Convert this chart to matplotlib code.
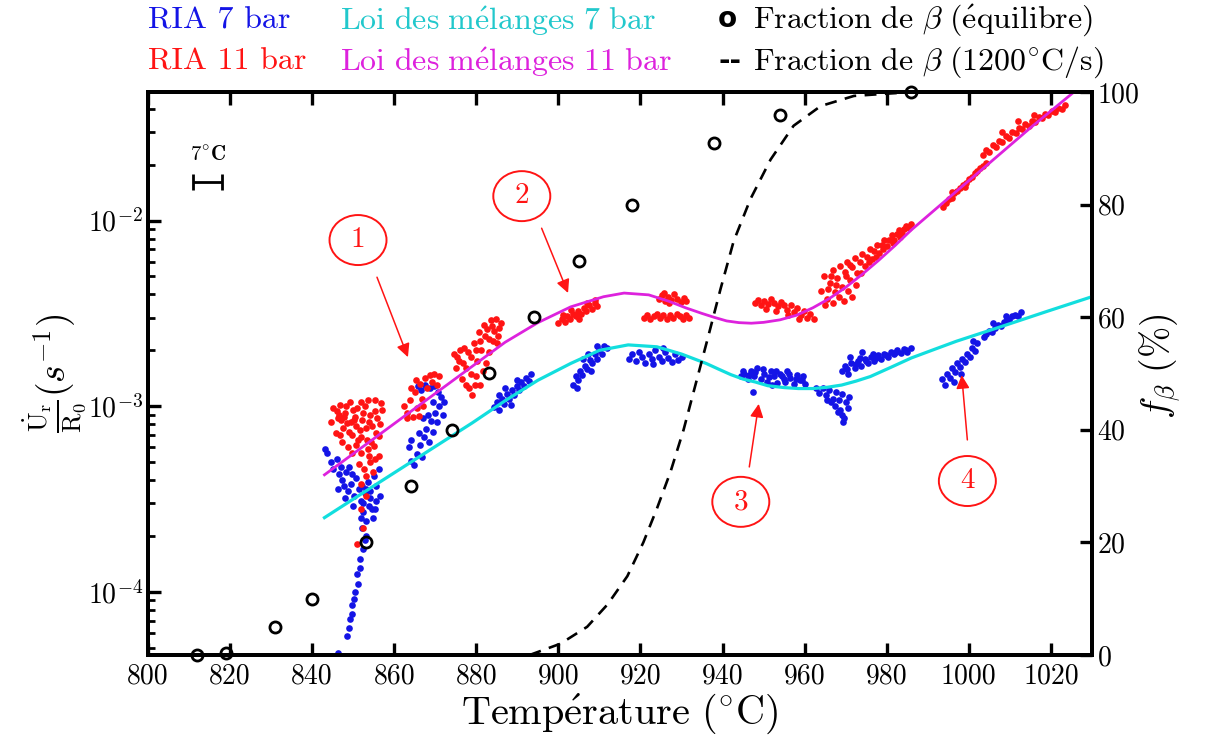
import matplotlib
matplotlib.use('Agg')
import matplotlib.pyplot as plt
from matplotlib.patches import Ellipse
from matplotlib.ticker import LogLocator, NullFormatter, FixedLocator

plt.rcParams['font.family'] = ['cmr10', 'DejaVu Serif']
plt.rcParams['mathtext.fontset'] = 'cm'
plt.rcParams['axes.formatter.use_mathtext'] = True

# ---------------- data ----------------
# RIA 7 bar measurements (temperature degC, strain rate 1/s)
ria7_pts = [
    # cluster ~845-857
    (843.5, 5.6e-4), (844.5, 5.0e-4), (845.2, 4.6e-4), (846.0, 5.2e-4), (846.5, 4.3e-4), (847.2, 4.0e-4),
    (847.8, 3.7e-4), (848.2, 4.4e-4), (848.8, 3.5e-4), (849.5, 3.8e-4), (850.2, 3.3e-4), (850.8, 4.1e-4),
    (851.5, 3.6e-4), (852.0, 3.1e-4), (852.8, 3.4e-4), (853.5, 3.9e-4), (854.2, 3.5e-4), (855.0, 4.2e-4),
    (855.6, 3.7e-4), (856.2, 4.6e-4), (853.8, 2.9e-4), (852.5, 2.7e-4), (851.8, 2.5e-4), (853.0, 2.4e-4),
    (854.5, 2.8e-4), (852.2, 2.2e-4), (853.2, 2.0e-4), (852.9, 1.9e-4), (851.7, 1.5e-4), (852.4, 1.7e-4),
    (851.0, 1.25e-4), (851.6, 1.35e-4), (850.5, 1.0e-4), (851.2, 1.1e-4), (849.8, 8.5e-5), (850.3, 9.2e-5),
    (849.3, 7.1e-5), (849.8, 7.6e-5), (848.5, 5.8e-5), (848.9, 6.4e-5), (846.3, 4.7e-5), (852.5, 3.0e-4),
    (850.0, 2.9e-4), (848.0, 3.2e-4), (846.2, 3.6e-4), (854.8, 2.5e-4), (855.5, 3.1e-4), (856.5, 3.3e-4),
    (843.2, 5.9e-4), (849.0, 4.7e-4), (847.0, 4.7e-4), (849.8, 4.3e-4), (852.2, 3.7e-4), (854.0, 3.2e-4),
    (855.2, 2.8e-4), (853.0, 3.6e-4),
    # cluster ~862-873
    (863.5, 6.0e-4), (864.0, 5.1e-4), (864.8, 4.8e-4), (865.5, 5.5e-4), (866.2, 6.2e-4), (866.8, 5.3e-4),
    (867.2, 6.8e-4), (867.8, 7.5e-4), (868.4, 6.4e-4), (869.0, 8.3e-4), (869.4, 7.3e-4), (870.0, 9.2e-4),
    (870.4, 8.2e-4), (871.0, 1.0e-3), (871.4, 1.12e-3), (870.6, 1.2e-3), (869.8, 1.28e-3), (868.8, 1.25e-3),
    (867.6, 1.3e-3), (866.5, 1.22e-3), (865.8, 1.28e-3), (871.8, 9.0e-4), (872.2, 1.05e-3), (868.2, 9.0e-4),
    (869.4, 1.05e-3), (866.0, 7.2e-4), (867.0, 8.6e-4), (864.2, 6.6e-4),
    # cluster ~884-894
    (884.2, 9.9e-4), (885.0, 1.05e-3), (885.6, 9.5e-4), (886.2, 1.1e-3), (886.8, 1.03e-3), (887.4, 1.16e-3),
    (888.0, 1.1e-3), (888.6, 1.22e-3), (889.2, 1.15e-3), (889.8, 1.28e-3), (890.4, 1.22e-3), (891.0, 1.35e-3),
    (891.6, 1.28e-3), (892.2, 1.42e-3), (892.8, 1.36e-3), (893.4, 1.5e-3), (887.0, 1.25e-3), (890.0, 1.38e-3),
    (885.5, 1.15e-3), (888.5, 1.02e-3),
    # cluster ~904-912
    (903.6, 1.3e-3), (904.2, 1.45e-3), (904.8, 1.38e-3), (905.2, 1.55e-3), (905.8, 1.48e-3), (906.4, 1.65e-3),
    (907.0, 1.58e-3), (907.6, 1.78e-3), (908.2, 1.7e-3), (908.8, 1.9e-3), (909.4, 1.8e-3), (910.0, 2.0e-3),
    (910.6, 1.92e-3), (911.2, 2.1e-3), (911.8, 2.05e-3), (906.0, 1.8e-3), (908.0, 1.55e-3), (909.5, 2.1e-3),
    (904.5, 1.25e-3), (907.2, 1.9e-3),
    # cluster ~917-930
    (917.2, 1.8e-3), (918.0, 1.9e-3), (918.8, 1.75e-3), (919.6, 1.95e-3), (920.4, 1.85e-3), (921.2, 1.7e-3),
    (922.0, 1.92e-3), (922.8, 1.8e-3), (923.6, 2.0e-3), (924.4, 1.85e-3), (925.2, 1.75e-3), (926.0, 1.95e-3),
    (926.8, 1.82e-3), (927.6, 1.72e-3), (928.4, 1.9e-3), (929.2, 1.78e-3), (930.0, 1.85e-3), (923.0, 1.68e-3),
    (925.5, 2.05e-3),
    # cluster ~944-960
    (944.5, 1.45e-3), (945.3, 1.5e-3), (946.1, 1.4e-3), (946.9, 1.55e-3), (947.7, 1.45e-3), (948.5, 1.6e-3),
    (949.3, 1.4e-3), (950.1, 1.5e-3), (950.9, 1.35e-3), (951.7, 1.55e-3), (952.5, 1.45e-3), (953.3, 1.33e-3),
    (954.1, 1.5e-3), (954.9, 1.4e-3), (955.7, 1.55e-3), (956.5, 1.42e-3), (957.3, 1.32e-3), (958.1, 1.48e-3),
    (958.9, 1.38e-3), (959.7, 1.45e-3), (960.2, 1.32e-3), (947.3, 1.2e-3), (952.0, 1.3e-3),
    (945.0, 1.55e-3), (946.5, 1.47e-3), (948.0, 1.52e-3), (949.8, 1.58e-3), (951.3, 1.43e-3), (953.0, 1.55e-3),
    (954.5, 1.45e-3), (956.1, 1.5e-3), (957.8, 1.4e-3), (959.3, 1.38e-3), (955.3, 1.35e-3),
    # cluster ~963-971
    (962.8, 1.25e-3), (963.6, 1.18e-3), (964.4, 1.26e-3), (965.2, 1.15e-3), (966.0, 1.22e-3), (966.8, 1.1e-3),
    (967.6, 1.2e-3), (968.4, 1.08e-3), (969.2, 1.16e-3), (970.0, 1.05e-3), (970.8, 1.12e-3), (966.5, 1.05e-3),
    (967.5, 1.0e-3), (968.5, 9.6e-4), (969.0, 9.0e-4), (968.2, 9.3e-4), (969.5, 8.6e-4), (969.3, 8.2e-4),
    (965.5, 1.08e-3), (970.5, 9.8e-4),
    # cluster ~969-986
    (969.0, 1.55e-3), (969.8, 1.65e-3), (970.6, 1.5e-3), (971.4, 1.7e-3), (972.2, 1.6e-3), (973.0, 1.75e-3),
    (973.8, 1.65e-3), (974.6, 1.8e-3), (975.4, 1.7e-3), (976.2, 1.85e-3), (977.0, 1.75e-3), (977.8, 1.88e-3),
    (978.6, 1.8e-3), (979.4, 1.92e-3), (980.2, 1.85e-3), (981.0, 1.97e-3), (981.8, 1.9e-3), (982.6, 2.0e-3),
    (983.4, 1.93e-3), (984.2, 2.03e-3), (985.0, 1.97e-3), (985.8, 2.05e-3), (971.0, 1.85e-3), (974.0, 1.95e-3),
    (970.2, 1.58e-3), (972.6, 1.68e-3), (975.0, 1.76e-3), (977.4, 1.82e-3), (979.8, 1.88e-3), (982.2, 1.95e-3),
    (984.6, 2.0e-3), (973.4, 1.82e-3), (976.6, 1.9e-3),
    # cluster ~993-1002
    (993.5, 1.4e-3), (994.2, 1.3e-3), (994.8, 1.5e-3), (995.4, 1.42e-3), (996.0, 1.6e-3), (996.6, 1.52e-3),
    (997.2, 1.7e-3), (997.8, 1.62e-3), (998.4, 1.8e-3), (999.0, 1.72e-3), (999.6, 1.92e-3), (1000.2, 1.85e-3),
    (1000.8, 2.05e-3), (1001.4, 1.98e-3), (1002.0, 2.2e-3), (996.5, 1.35e-3), (998.0, 1.5e-3), (1001.0, 2.25e-3),
    # cluster ~1003-1013
    (1003.6, 2.35e-3), (1004.3, 2.45e-3), (1005.0, 2.55e-3), (1005.7, 2.5e-3), (1006.4, 2.65e-3), (1007.1, 2.75e-3),
    (1007.8, 2.7e-3), (1008.5, 2.85e-3), (1009.2, 2.95e-3), (1009.9, 2.9e-3), (1010.6, 3.05e-3), (1011.3, 3.1e-3),
    (1012.0, 3.05e-3), (1012.7, 3.2e-3), (1006.0, 2.8e-3), (1009.0, 3.05e-3),
]

# RIA 11 bar measurements
ria11_pts = [
    # cluster ~844-857
    (845.0, 9.8e-4), (846.2, 8.6e-4), (846.8, 1.02e-3), (847.5, 7.6e-4), (848.0, 9.2e-4), (848.6, 8.1e-4),
    (849.3, 1.05e-3), (849.8, 7.0e-4), (850.4, 8.8e-4), (851.0, 9.8e-4), (851.6, 7.4e-4), (852.2, 8.4e-4),
    (852.8, 1.0e-3), (853.4, 6.6e-4), (854.0, 9.0e-4), (854.6, 7.8e-4), (855.2, 1.08e-3), (855.8, 8.6e-4),
    (856.4, 6.9e-4), (857.0, 9.6e-4), (845.8, 7.2e-4), (847.2, 6.4e-4), (848.8, 6.0e-4), (850.6, 6.2e-4),
    (852.0, 5.6e-4), (853.6, 5.9e-4), (855.0, 6.1e-4), (856.2, 5.4e-4), (854.2, 5.0e-4), (852.6, 4.6e-4),
    (851.4, 4.9e-4), (853.2, 4.2e-4), (854.8, 4.4e-4), (852.0, 3.8e-4), (853.0, 3.3e-4), (851.8, 2.8e-4),
    (852.4, 2.2e-4), (851.0, 1.8e-4), (847.0, 8.4e-4), (849.0, 7.3e-4), (850.0, 9.5e-4), (853.0, 7.6e-4),
    (855.6, 7.2e-4), (846.0, 9.4e-4), (844.5, 8.2e-4),
    (846.5, 9.0e-4), (847.8, 8.8e-4), (849.5, 8.2e-4), (850.8, 7.8e-4), (852.4, 9.2e-4), (853.8, 8.2e-4),
    (855.4, 9.4e-4), (856.6, 8.0e-4), (854.4, 6.4e-4), (851.2, 6.6e-4), (849.8, 5.6e-4), (846.8, 7.0e-4),
    (848.2, 1.0e-3), (851.8, 1.06e-3), (853.6, 1.08e-3), (856.8, 1.04e-3), (855.4, 5.2e-4), (853.8, 5.4e-4),
    (852.0, 6.8e-4), (850.2, 8.4e-4),
    # cluster ~862-871
    (862.5, 1.0e-3), (863.2, 9.2e-4), (863.8, 1.08e-3), (864.5, 8.8e-4), (865.0, 1.2e-3), (865.6, 9.8e-4),
    (866.2, 1.32e-3), (866.8, 1.1e-3), (867.4, 1.42e-3), (868.0, 1.25e-3), (868.6, 1.48e-3), (869.2, 1.35e-3),
    (869.8, 1.5e-3), (870.4, 1.3e-3), (871.0, 1.45e-3), (864.0, 1.25e-3), (865.2, 1.38e-3), (866.0, 8.9e-4),
    (863.0, 8.6e-4), (867.0, 1.0e-3),
    # cluster ~874-886
    (874.5, 1.9e-3), (875.0, 1.6e-3), (875.8, 1.75e-3), (876.4, 1.4e-3), (877.0, 2.05e-3), (877.6, 1.6e-3),
    (878.2, 1.25e-3), (878.8, 1.85e-3), (879.4, 2.2e-3), (880.0, 1.45e-3), (880.6, 2.5e-3), (881.2, 2.0e-3),
    (881.8, 2.75e-3), (882.4, 1.7e-3), (883.0, 2.3e-3), (883.6, 2.9e-3), (884.2, 2.55e-3), (884.8, 2.95e-3),
    (885.4, 2.4e-3), (886.0, 2.8e-3), (879.0, 1.15e-3), (877.4, 1.3e-3), (882.0, 2.4e-3), (880.2, 1.75e-3),
    (883.2, 1.95e-3), (876.0, 2.0e-3), (885.0, 2.2e-3), (881.0, 1.3e-3),
    (876.8, 1.7e-3), (878.0, 1.95e-3), (879.8, 2.0e-3), (880.8, 2.25e-3), (882.6, 2.6e-3), (884.0, 2.25e-3),
    (885.6, 2.65e-3), (878.6, 1.5e-3), (881.6, 1.55e-3), (883.8, 2.7e-3), (875.4, 1.85e-3), (879.6, 1.3e-3),
    # cluster ~900-910
    (900.0, 2.8e-3), (900.8, 2.95e-3), (901.5, 2.85e-3), (902.2, 3.05e-3), (902.8, 2.95e-3), (903.5, 3.15e-3),
    (904.2, 3.05e-3), (904.8, 3.25e-3), (905.5, 3.15e-3), (906.2, 3.4e-3), (906.8, 3.25e-3), (907.5, 3.5e-3),
    (908.2, 3.35e-3), (908.8, 3.6e-3), (909.5, 3.45e-3), (903.0, 3.3e-3), (905.0, 2.95e-3), (907.0, 3.6e-3),
    (901.0, 3.1e-3), (909.0, 3.75e-3),
    # cluster ~924-932 (upper)
    (924.5, 3.8e-3), (925.3, 3.95e-3), (926.0, 3.7e-3), (926.8, 3.9e-3), (927.5, 3.75e-3), (928.2, 4.0e-3),
    (929.0, 3.8e-3), (929.8, 3.65e-3), (930.5, 3.85e-3), (931.2, 3.7e-3), (927.0, 3.6e-3), (925.8, 4.05e-3),
    # cluster ~921-932 (lower)
    (920.8, 3.0e-3), (921.6, 3.1e-3), (922.4, 2.95e-3), (923.2, 3.05e-3), (924.0, 3.15e-3), (924.8, 3.0e-3),
    (925.6, 3.1e-3), (926.4, 2.95e-3), (927.2, 3.1e-3), (928.0, 3.0e-3), (928.8, 3.15e-3), (929.6, 3.05e-3),
    (930.4, 2.95e-3), (931.2, 3.1e-3), (931.8, 3.0e-3),
    # cluster ~948-962
    (947.8, 3.6e-3), (948.6, 3.75e-3), (949.4, 3.5e-3), (950.2, 3.7e-3), (951.0, 3.55e-3), (951.8, 3.8e-3),
    (952.6, 3.6e-3), (953.4, 3.45e-3), (954.2, 3.65e-3), (955.0, 3.5e-3), (955.8, 3.3e-3), (956.6, 3.5e-3),
    (957.4, 3.2e-3), (958.2, 3.4e-3), (959.0, 3.1e-3), (959.8, 3.25e-3), (960.6, 3.0e-3), (961.4, 3.15e-3),
    (962.2, 2.95e-3), (953.0, 3.25e-3), (956.0, 3.1e-3), (958.5, 2.95e-3), (950.5, 3.35e-3),
    # cluster ~964-986
    (964.0, 4.2e-3), (964.8, 5.0e-3), (965.5, 3.8e-3), (966.2, 4.6e-3), (966.8, 5.4e-3), (967.4, 4.1e-3),
    (968.0, 4.9e-3), (968.6, 5.7e-3), (969.2, 4.4e-3), (969.8, 5.3e-3), (970.4, 6.0e-3), (971.0, 4.8e-3),
    (971.6, 5.6e-3), (972.2, 6.3e-3), (972.8, 5.2e-3), (973.4, 6.0e-3), (974.0, 6.6e-3), (974.6, 5.7e-3),
    (975.2, 6.4e-3), (975.8, 7.0e-3), (976.4, 6.2e-3), (977.0, 6.9e-3), (977.6, 7.4e-3), (978.2, 6.7e-3),
    (978.8, 7.4e-3), (979.4, 7.9e-3), (980.0, 7.3e-3), (980.6, 7.9e-3), (981.2, 8.4e-3), (981.8, 7.9e-3),
    (982.4, 8.5e-3), (983.0, 8.9e-3), (983.6, 8.5e-3), (984.2, 9.0e-3), (984.8, 9.4e-3), (985.4, 9.1e-3),
    (986.0, 9.6e-3), (965.0, 3.5e-3), (967.0, 3.6e-3), (969.5, 3.7e-3), (971.5, 3.9e-3), (970.5, 4.2e-3),
    (965.8, 4.3e-3), (967.6, 4.5e-3), (968.4, 3.9e-3), (970.0, 5.0e-3), (972.6, 4.5e-3), (973.8, 5.2e-3),
    (975.6, 6.0e-3), (977.4, 6.4e-3), (979.0, 7.0e-3), (981.5, 7.6e-3), (983.2, 8.2e-3), (966.4, 5.0e-3),
    (971.0, 5.8e-3),
    # cluster ~994-1005
    (993.7, 1.18e-2), (994.4, 1.24e-2), (995.1, 1.3e-2), (995.8, 1.33e-2), (996.5, 1.4e-2), (997.2, 1.45e-2),
    (997.9, 1.5e-2), (998.6, 1.56e-2), (999.3, 1.6e-2), (1000.0, 1.68e-2), (1000.7, 1.72e-2), (1001.4, 1.8e-2),
    (1002.1, 1.85e-2), (1002.8, 1.92e-2), (1003.5, 1.96e-2), (1004.2, 2.04e-2), (996.0, 1.42e-2), (999.0, 1.52e-2),
    # cluster ~1003-1024
    (1003.4, 2.25e-2), (1004.2, 2.4e-2), (1005.0, 2.35e-2), (1005.8, 2.55e-2), (1006.6, 2.5e-2), (1007.4, 2.7e-2),
    (1008.2, 2.65e-2), (1009.0, 2.85e-2), (1009.8, 2.8e-2), (1010.6, 3.0e-2), (1011.4, 2.95e-2), (1012.2, 3.15e-2),
    (1013.0, 3.1e-2), (1013.8, 3.3e-2), (1014.6, 3.25e-2), (1015.4, 3.45e-2), (1016.2, 3.4e-2), (1017.0, 3.6e-2),
    (1017.8, 3.55e-2), (1018.6, 3.75e-2), (1019.4, 3.7e-2), (1020.2, 3.9e-2), (1021.0, 3.85e-2), (1021.8, 4.05e-2),
    (1022.6, 4.0e-2), (1023.5, 4.2e-2), (1008.0, 3.0e-2), (1012.0, 3.45e-2), (1016.0, 3.7e-2),
]

# Mixture-law fits
mix7_T = [843, 855, 867, 879, 887, 895, 903, 910, 917, 924, 930, 936, 939, 942, 945, 948, 951, 955, 958.5,
          962, 965.5, 969, 972.5, 976, 981, 986, 991.5, 997, 1008, 1019, 1030]
mix7_v = [2.51e-4, 3.72e-4, 5.50e-4, 8.13e-4, 1.07e-3, 1.38e-3, 1.70e-3, 2.00e-3, 2.14e-3, 2.09e-3, 1.91e-3,
          1.70e-3, 1.585e-3, 1.48e-3, 1.40e-3, 1.35e-3, 1.29e-3, 1.26e-3, 1.245e-3, 1.245e-3, 1.265e-3, 1.30e-3,
          1.365e-3, 1.445e-3, 1.62e-3, 1.82e-3, 2.02e-3, 2.24e-3, 2.69e-3, 3.24e-3, 3.89e-3]
mix11_T = [843, 855, 867, 879, 887, 895, 903, 911, 916, 922, 927, 931, 935, 938, 941, 944, 947, 950, 954,
           958, 962, 966, 970, 974, 978, 982, 986, 995, 1005, 1015, 1026]
mix11_v = [4.27e-4, 6.68e-4, 1.047e-3, 1.64e-3, 2.21e-3, 2.82e-3, 3.43e-3, 3.89e-3, 4.07e-3, 3.98e-3, 3.67e-3,
           3.39e-3, 3.16e-3, 3.01e-3, 2.88e-3, 2.82e-3, 2.80e-3, 2.83e-3, 2.92e-3, 3.09e-3, 3.39e-3, 3.80e-3,
           4.37e-3, 5.13e-3, 6.10e-3, 7.33e-3, 8.91e-3, 1.32e-2, 2.04e-2, 3.16e-2, 5.01e-2]

# beta fraction (%)
eq_T = [812, 819, 831, 840, 853, 864, 874, 883, 894, 905, 918, 938, 954, 986]
eq_f = [0, 0.3, 5, 10, 20, 30, 40, 50, 60, 70, 80, 91, 96, 100]
rate_T = [893, 900.5, 907, 912, 916.8, 920.7, 924, 927.3, 930.5, 933.4, 936.3, 939.5, 942.7, 946.8, 951.7,
          957.3, 963.9, 972, 980, 986.6]
rate_f = [0, 2, 5, 9, 14, 20, 26, 32.5, 40, 48, 56, 65, 73.5, 81, 88, 94, 97.5, 99.3, 99.7, 100]

xticks = [800, 820, 840, 860, 880, 900, 920, 940, 960, 980, 1000, 1020]
yticks_left = [1e-4, 1e-3, 1e-2]
yticklabels_left = [r'$10^{-4}$', r'$10^{-3}$', r'$10^{-2}$']
yticks_right = [0, 20, 40, 60, 80, 100]

BLUE = '#1414e6'
RED = '#ff1414'
CYAN = '#12dede'
MAGENTA = '#dd22dd'

# ---------------- figure ----------------
fig = plt.figure(figsize=(12.11, 7.40), dpi=100)
ax = fig.add_axes([0.1222, 0.1149, 0.7795, 0.7608])

ax.plot([p[0] for p in ria7_pts], [p[1] for p in ria7_pts], 'o', ms=4.8, mec='none', color=BLUE, zorder=2)
ax.plot([p[0] for p in ria11_pts], [p[1] for p in ria11_pts], 'o', ms=4.8, mec='none', color=RED, zorder=2)
ax.plot(mix7_T, mix7_v, '-', color=CYAN, lw=2.3, zorder=3)
ax.plot(mix11_T, mix11_v, '-', color=MAGENTA, lw=2.0, zorder=3)

ax.set_yscale('log')
ax.set_xlim(800, 1030)
ax.set_ylim(4.57e-5, 4.93e-2)
ax.xaxis.set_major_locator(FixedLocator(xticks))
ax.set_xticklabels([str(t) for t in xticks])
ax.yaxis.set_major_locator(FixedLocator(yticks_left))
ax.set_yticklabels(yticklabels_left)
ax.yaxis.set_minor_locator(LogLocator(base=10, subs=range(2, 10), numticks=20))
ax.yaxis.set_minor_formatter(NullFormatter())
ax.tick_params(axis='both', which='major', direction='in', length=9, width=2.4, labelsize=20, top=True, right=False)
ax.tick_params(axis='y', which='minor', direction='in', length=5, width=2.0, right=False)
ax.tick_params(axis='x', which='major', pad=6)
for s in ax.spines.values():
    s.set_linewidth(2.8)

fig.text(0.512, 0.036, r'$\mathrm{Temp\acute{e}rature\ (^{\circ}C)}$', fontsize=29, ha='center', va='center')
fig.text(0.046, 0.495, r'$\frac{\dot{\mathrm{U}}_{\mathrm{r}}}{\mathrm{R}_{0}}(s^{-1})$', fontsize=27,
         ha='center', va='center', rotation=90)

ax2 = ax.twinx()
ax2.plot(eq_T, eq_f, 'o', ms=8, mfc='none', mec='black', mew=2.0, clip_on=False, zorder=4)
ax2.plot(rate_T, rate_f, '--', color='black', lw=1.9, dashes=(4.5, 3.2), zorder=4)
ax2.set_ylim(0, 100)
ax2.yaxis.set_major_locator(FixedLocator(yticks_right))
ax2.tick_params(axis='y', direction='in', length=9, width=2.4, labelsize=20)
for s in ax2.spines.values():
    s.set_linewidth(2.8)
fig.text(0.958, 0.505, r'$f_{\beta}\ (\%)$', fontsize=27, ha='center', va='center', rotation=90)

# scale bar 7 degC
ax.errorbar([814.5], [0.0161], xerr=[3.5], fmt='none', ecolor='black', elinewidth=2.0, capsize=6, capthick=2.0)
ax.text(814.5, 0.0228, r'$\mathbf{7^{\circ}C}$', ha='center', va='center', fontsize=15)

# numbered annotations (axes fraction)
circles = [('1', 0.2225, 0.737), ('2', 0.396, 0.815), ('3', 0.628, 0.272), ('4', 0.868, 0.309)]
arrows = [((0.2426, 0.671), (0.2754, 0.529)), ((0.417, 0.758), (0.445, 0.643)),
          ((0.637, 0.334), (0.647, 0.446)), ((0.868, 0.382), (0.862, 0.497))]
for lab, cx, cy in circles:
    ax2.add_patch(Ellipse((cx, cy), 57 / 944, 50 / 563, transform=ax.transAxes, fill=False,
                          ec=RED, lw=1.4, clip_on=False))
    ax2.text(cx, cy, lab, transform=ax.transAxes, ha='center', va='center', color=RED, fontsize=21)
for (x0, y0), (x1, y1) in arrows:
    ax2.annotate('', xy=(x1, y1), xytext=(x0, y0), xycoords=ax.transAxes, textcoords=ax.transAxes,
                 arrowprops=dict(arrowstyle='-|>', color=RED, lw=1.1, mutation_scale=20, shrinkA=0, shrinkB=0))

# legend texts on top
fs = 23
fig.text(0.1222, 0.972, 'RIA 7 bar', color=BLUE, fontsize=fs, va='center', ha='left')
fig.text(0.1222, 0.916, 'RIA 11 bar', color=RED, fontsize=fs, va='center', ha='left')
fig.text(0.2808, 0.972, r'$\mathrm{Loi\ des\ m\acute{e}langes\ 7\ bar}$', color='#22c8cc', fontsize=fs,
         va='center', ha='left')
fig.text(0.2808, 0.916, r'$\mathrm{Loi\ des\ m\acute{e}langes\ 11\ bar}$', color=MAGENTA, fontsize=fs,
         va='center', ha='left')
fig.text(0.593, 0.974, 'o', fontsize=fs - 3, fontweight='bold', va='center', ha='left', family='DejaVu Sans')
fig.text(0.593, 0.918, '--', fontsize=fs - 3, fontweight='bold', va='center', ha='left', family='DejaVu Sans')
fig.text(0.6218, 0.972, r'$\mathrm{Fraction\ de\ }\beta\ \mathrm{(\acute{e}quilibre)}$', fontsize=fs,
         va='center', ha='left')
fig.text(0.6218, 0.916, r'$\mathrm{Fraction\ de\ }\beta\ \mathrm{(1200^{\circ}C/s)}$', fontsize=fs,
         va='center', ha='left')

fig.savefig('out.png', dpi=100)
